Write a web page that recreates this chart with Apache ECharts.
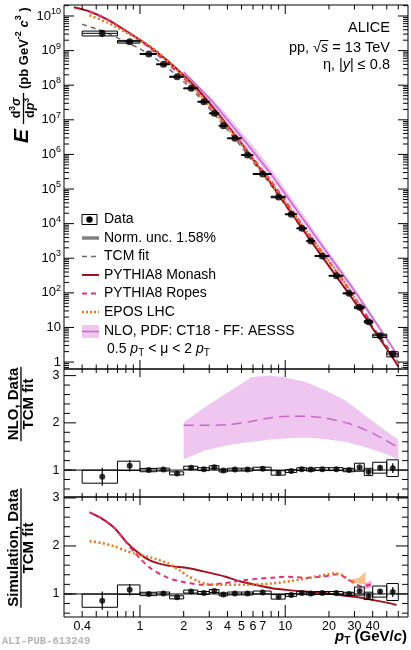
<!DOCTYPE html>
<html lang="en">
<head>
<meta charset="UTF-8">
<title>eta spectrum pp 13 TeV</title>
<script src="https://cdn.jsdelivr.net/npm/echarts@6.0.0/dist/echarts.min.js"></script>
<style>
  html, body { margin: 0; padding: 0; background: #fff; }
  #main { width: 411px; height: 650px; }
</style>
</head>
<body>
<div id="main"></div>
<script>
var binLo = [0.4, 0.7, 1.0, 1.3, 1.6, 2.0, 2.5, 3.0, 3.5, 4.0, 5.0, 6.0, 8.0, 10, 12, 14, 16, 20, 25, 30, 35, 40, 50];
var binHi = [0.7, 1.0, 1.3, 1.6, 2.0, 2.5, 3.0, 3.5, 4.0, 5.0, 6.0, 8.0, 10, 12, 14, 16, 20, 25, 30, 35, 40, 50, 60];
var ptCenter = [0.55, 0.85, 1.15, 1.45, 1.8, 2.25, 2.75, 3.25, 3.75, 4.5, 5.5, 7, 9, 11, 13, 15, 18, 22.5, 27.5, 32.5, 37.5, 45, 55];
var spectrum = [3.16e9, 1.81e9, 7.98e8, 4.02e8, 1.76e8, 8.13e7, 3.33e7, 1.54e7, 6.76e6, 2.92e6, 9.6e5, 2.72e5, 5.88e4, 1.86e4, 7.31e3, 3.14e3, 1.16e3, 312, 96.7, 38.1, 14.6, 5.75, 1.70];
var statRel = [0.22, 0.11, 0.02, 0.02, 0.02, 0.02, 0.02, 0.02, 0.02, 0.02, 0.02, 0.02, 0.02, 0.02, 0.02, 0.02, 0.02, 0.02, 0.03, 0.03, 0.04, 0.05, 0.10];
var sysRel = [0.16, 0.09, 0.035, 0.03, 0.035, 0.03, 0.03, 0.03, 0.03, 0.03, 0.03, 0.03, 0.05, 0.03, 0.03, 0.03, 0.03, 0.03, 0.035, 0.08, 0.08, 0.11, 0.17];
var dataOverFit = [0.86, 1.09, 1.00, 1.01, 0.93, 1.05, 1.02, 1.06, 0.99, 1.01, 1.01, 1.03, 0.94, 0.98, 1.02, 1.01, 1.02, 1.02, 1.00, 1.06, 0.96, 1.05, 1.04];

// ---- curves in the spectrum panel [pT, value] ----
var tcmFit = [[0.4, 5.75e9], [0.5, 4.27e9], [0.6, 3.16e9], [0.7, 2.34e9], [0.85, 1.58e9], [1.0, 1.12e9], [1.2, 7.08e8], [1.5, 3.55e8], [2.0, 1.26e8], [2.5, 5.01e7], [3.0, 2.14e7], [4.0, 5.13e6], [5.0, 1.66e6], [6.0, 6.03e5], [8.0, 1.26e5], [10, 3.39e4], [12, 1.17e4], [15, 3.09e3], [20, 589], [25, 166], [30, 58.9], [40, 10.7], [50, 2.95], [60, 0.977], [65, 0.6]];
var monashSpec = [[0.35, 1.78e10], [0.45, 1.35e10], [0.6, 7.83e9], [0.8, 3.73e9], [1.0, 2.04e9], [1.2, 1.19e9], [1.5, 5.68e8], [2, 1.95e8], [2.5, 7.52e7], [3, 3.08e7], [4, 6.92e6], [5, 2.09e6], [6, 7.23e5], [8, 1.41e5], [10, 3.69e4], [15, 3.21e3], [20, 594], [30, 55.3], [40, 9.42], [50, 2.42], [60, 0.75]];
var ropesSpec = [[0.45, 1.35e10], [0.6, 7.83e9], [0.8, 3.73e9], [1.0, 1.95e9], [1.2, 1.08e9], [1.5, 4.83e8], [2, 1.57e8], [2.5, 6.07e7], [3, 2.55e7], [4, 6.31e6], [5, 2.12e6], [6, 7.89e5], [8, 1.69e5], [10, 4.61e4], [15, 4.17e3], [20, 807], [25, 224], [30, 71.8], [35, 27.4], [40, 12.9]];
var eposSpec = [[0.45, 1.05e10], [0.6, 6.38e9], [0.8, 3.38e9], [1.0, 2.03e9], [1.2, 1.25e9], [1.5, 5.85e8], [2, 1.79e8], [2.5, 6.41e7], [3, 2.56e7], [4, 6.11e6], [5, 1.98e6], [6, 7.23e5], [8, 1.53e5], [10, 4.24e4], [15, 4.14e3], [20, 830], [25, 231], [30, 73.6], [35, 30.7]];
var nloPtSpec = [2, 3, 4, 6, 8, 10, 15, 20, 30, 40, 50, 60];
var nloSpec = [2.45e8, 4.17e7, 1.0e7, 1.23e6, 2.65e5, 7.21e4, 6.58e3, 1.22e3, 115, 19.1, 4.75, 1.45];
var nloSpecHigh = [2.53e8, 5.09e7, 1.36e7, 1.79e6, 3.78e5, 1.0e5, 8.77e3, 1.57e3, 139, 21.9, 5.37, 1.6];
var nloSpecLow = [1.55e8, 3.08e7, 7.85e6, 9.64e5, 2.07e5, 5.66e4, 5.22e3, 977, 91.8, 15.4, 3.93, 1.2];

// ---- NLO / TCM ----
var nloPtRatio = [2, 2.83, 4.09, 5.9, 7.9, 10, 13.7, 18.8, 25.8, 35.3, 48.3, 60];
var nloRatioHigh = [2.01, 2.34, 2.66, 2.97, 3.0, 2.96, 2.87, 2.69, 2.48, 2.16, 1.85, 1.64];
var nloRatioLow = [1.23, 1.42, 1.53, 1.60, 1.65, 1.67, 1.69, 1.66, 1.60, 1.49, 1.35, 1.23];
var nloRatio = [[2, 1.95], [2.83, 1.95], [4, 1.96], [5.6, 2.02], [8, 2.11], [11, 2.14], [14, 2.14], [19.5, 2.09], [27, 1.99], [37, 1.83], [48.5, 1.64], [60, 1.48]];

// ---- simulation / TCM ----
var monashRatio = [[0.45, 2.70], [0.54, 2.58], [0.67, 2.37], [0.82, 2.06], [1.0, 1.83], [1.19, 1.69], [1.55, 1.59], [2.12, 1.54], [2.83, 1.46], [3.88, 1.36], [4.79, 1.27], [6.22, 1.19], [8.1, 1.12], [10.5, 1.08], [13.7, 1.05], [17.8, 1.03], [23.2, 0.98], [30.1, 0.94], [39.2, 0.88], [48.3, 0.83], [58.3, 0.77]];
var ropesRatio = [[0.45, 2.70], [0.54, 2.58], [0.67, 2.37], [0.82, 2.04], [0.92, 1.86], [1.0, 1.74], [1.19, 1.53], [1.55, 1.34], [2.12, 1.23], [2.83, 1.19], [3.88, 1.23], [5.3, 1.29], [8.1, 1.34], [10.5, 1.36], [13.7, 1.34], [17.8, 1.36], [23.2, 1.41], [26.3, 1.33], [30.1, 1.22], [33.2, 1.16], [36, 1.17], [39, 1.2]];
var eposRatio = [[0.45, 2.10], [0.55, 2.06], [0.67, 1.99], [0.8, 1.90], [0.9, 1.85], [1.0, 1.81], [1.19, 1.76], [1.55, 1.64], [1.9, 1.48], [2.12, 1.38], [2.5, 1.27], [2.83, 1.21], [3.88, 1.19], [5.3, 1.19], [8.1, 1.22], [11, 1.27], [15, 1.34], [19.6, 1.41], [21.7, 1.43], [24.6, 1.40], [27.3, 1.29], [30.6, 1.24]];
var eposBandPt = [28.5, 32, 34, 35.7];
var eposBandHigh = [1.30, 1.33, 1.40, 1.47];
var eposBandLow = [1.22, 1.22, 1.20, 1.22];
var ropesBandPt = [35, 37, 39.3];
var ropesBandHigh = [1.22, 1.25, 1.28];
var ropesBandLow = [1.10, 1.12, 1.15];
var normPt = [0.3, 0.34];
var normHigh = [1.0158, 1.0158];
var normLow = [0.9842, 0.9842];
var unityLine = [[0.3, 1], [70, 1]];

// ---- ticks ----
var xTickLabels = ['0.4', '1', '2', '3', '4', '5', '6', '7', '10', '20', '30', '40'];
var xMajorTicks = [1, 10];
var xMinorTicks = [0.4, 0.5, 0.6, 0.7, 0.8, 0.9, 2, 3, 4, 5, 6, 7, 8, 9, 20, 30, 40, 50, 60];
var specTickValues = [1, 10, 1e2, 1e3, 1e4, 1e5, 1e6, 1e7, 1e8, 1e9, 1e10];
var specTickLabels = ['1', '10', '10^2', '10^3', '10^4', '10^5', '10^6', '10^7', '10^8', '10^9', '10^10'];
var ratioTickValues = [1, 2, 3];
var ratioTickLabels = ['1', '2', '3'];
var ratioMinorTicks = [0.6, 0.8, 1.2, 1.4, 1.6, 1.8, 2.2, 2.4, 2.6, 2.8];
var specMinorTicks = [];
for (var e = -1; e <= 10; e++) {
  for (var k = 2; k <= 9; k++) {
    var v = k * Math.pow(10, e);
    if (v > 0.63 && v < 2.08e10) specMinorTicks.push(v);
  }
}

var colMonash = '#a3121c', colRopes = '#e0307e', colEpos = '#e6781c';
var colNloFill = '#efc6ef', colNloLine = '#cc66cc', colTcm = '#6e6e6e';

var FF = '"Liberation Sans", Arial, sans-serif';
function fnt(style, size) { return (style ? style + ' ' : '') + size + 'px ' + FF; }
var ctx2d = document.createElement('canvas').getContext('2d');
function textWidth(t, font) { ctx2d.font = font; return ctx2d.measureText(t).width; }

// lay out a row of text pieces: [text, font, dy, overline]
function runs(segs, x0, y0, align, color) {
  var ws = segs.map(function (s) { return textWidth(s[0], s[1]); });
  var tot = ws.reduce(function (a, b) { return a + b; }, 0);
  var x = align === 'right' ? x0 - tot : (align === 'center' ? x0 - tot / 2 : x0);
  var out = [];
  segs.forEach(function (s, i) {
    out.push({ type: 'text', x: x, y: y0 + (s[2] || 0), silent: true,
      style: { text: s[0], font: s[1], fill: color || '#000', align: 'left', verticalAlign: 'middle' } });
    if (s[3]) {
      out.push({ type: 'line', silent: true, shape: { x1: x - 1, y1: y0 - 7.5, x2: x + ws[i], y2: y0 - 7.5 },
        style: { stroke: color || '#000', lineWidth: 1 } });
    }
    x += ws[i];
  });
  return out;
}

function zip(xs, ys) { return xs.map(function (x, i) { return [x, ys[i]]; }); }

function curve(idx, data, color, width, type, z) {
  return { type: 'line', xAxisIndex: idx, yAxisIndex: idx, data: data, showSymbol: false, symbol: 'none',
    smooth: 0.25, silent: true, z: z || 3, lineStyle: { color: color, width: width, type: type || 'solid', cap: 'butt' } };
}

function band(idx, xs, hi, lo, color, z) {
  return { type: 'custom', xAxisIndex: idx, yAxisIndex: idx, silent: true, z: z || 1, clip: true,
    data: [[xs[0], hi[0]]],
    renderItem: function (params, api) {
      var pts = [];
      for (var i = 0; i < xs.length; i++) pts.push(api.coord([xs[i], hi[i]]));
      for (var j = xs.length - 1; j >= 0; j--) pts.push(api.coord([xs[j], lo[j]]));
      return { type: 'polygon', shape: { points: pts }, style: { fill: color } };
    } };
}

function boxes(idx, vals, withXErr) {
  var rows = ptCenter.map(function (x, i) { return [x, vals[i], binLo[i], binHi[i], statRel[i], sysRel[i]]; });
  return { type: 'custom', xAxisIndex: idx, yAxisIndex: idx, silent: true, z: 6, clip: true, data: rows,
    renderItem: function (params, api) {
      var x = api.value(0), y = api.value(1), lo = api.value(2), hi = api.value(3), st = api.value(4), sy = api.value(5);
      var a = api.coord([lo, y * (1 + sy)]), b = api.coord([hi, y * (1 - sy)]);
      var c = api.coord([x, y]), s1 = api.coord([x, y * (1 + st)]), s2 = api.coord([x, y * (1 - st)]);
      var kids = [
        { type: 'rect', shape: { x: a[0], y: a[1], width: b[0] - a[0], height: b[1] - a[1] }, style: { fill: 'none', stroke: '#000', lineWidth: 1 } },
        { type: 'line', shape: { x1: c[0], y1: s1[1], x2: c[0], y2: s2[1] }, style: { stroke: '#000', lineWidth: 1.2 } }
      ];
      if (withXErr) kids.push({ type: 'line', shape: { x1: a[0], y1: c[1], x2: b[0], y2: c[1] }, style: { stroke: '#000', lineWidth: 1 } });
      return { type: 'group', children: kids };
    } };
}

function points(idx, vals, size) {
  return { type: 'scatter', xAxisIndex: idx, yAxisIndex: idx, data: zip(ptCenter, vals), symbol: 'circle',
    symbolSize: size, itemStyle: { color: '#000' }, silent: true, z: 7 };
}

// ticks and tick labels drawn along the frame of each panel
function frame(idx, o) {
  return { type: 'custom', xAxisIndex: idx, yAxisIndex: idx, silent: true, z: 10, data: [[1, o.yRef]],
    renderItem: function (params, api) {
      var cs = params.coordSys;
      var L = cs.x, R = cs.x + cs.width, T = cs.y, B = cs.y + cs.height;
      var kids = [];
      function seg(x1, y1, x2, y2) { kids.push({ type: 'line', shape: { x1: x1, y1: y1, x2: x2, y2: y2 }, style: { stroke: '#000', lineWidth: 1 } }); }
      function xt(list, lb, lt) {
        list.forEach(function (v) { var px = api.coord([v, o.yRef])[0]; seg(px, B, px, B - lb); seg(px, T, px, T + lt); });
      }
      function yt(list, len) {
        list.forEach(function (v) { var py = api.coord([1, v])[1]; seg(L, py, L + len, py); seg(R, py, R - len, py); });
      }
      xt(xMajorTicks, o.xBot[0], o.xTop[0]);
      xt(xMinorTicks, o.xBot[1], o.xTop[1]);
      yt(o.yMajor, o.yLen[0]);
      yt(o.yMinor, o.yLen[1]);
      if (o.specLabels) {
        specTickValues.forEach(function (v, i) {
          var py = api.coord([1, v])[1];
          var parts = specTickLabels[i].split('^');
          var bf = fnt('', 13), ef = fnt('', 9);
          var ew = parts[1] ? textWidth(parts[1], ef) : 0;
          var xr = L - 3;
          kids.push({ type: 'text', x: xr - ew, y: py, style: { text: parts[0], font: bf, fill: '#000', align: 'right', verticalAlign: 'middle' } });
          if (parts[1]) kids.push({ type: 'text', x: xr - ew, y: py - 4.5, style: { text: parts[1], font: ef, fill: '#000', align: 'left', verticalAlign: 'middle' } });
        });
      }
      if (o.ratioLabels) {
        ratioTickValues.forEach(function (v, i) {
          var py = api.coord([1, v])[1];
          kids.push({ type: 'text', x: L - 4.5, y: py, style: { text: ratioTickLabels[i], font: fnt('', 12.5), fill: '#000', align: 'right', verticalAlign: 'middle' } });
        });
      }
      if (o.xLabels) {
        xTickLabels.forEach(function (t) {
          var px = api.coord([parseFloat(t), o.yRef])[0];
          kids.push({ type: 'text', x: px, y: B + 9.5, style: { text: t, font: fnt('', 12.5), fill: '#000', align: 'center', verticalAlign: 'middle' } });
        });
      }
      return { type: 'group', children: kids };
    } };
}

function xAx(i) {
  return { type: 'log', logBase: 10, gridIndex: i, min: 0.3, max: 70, axisLine: { show: false }, axisTick: { show: false }, axisLabel: { show: false }, splitLine: { show: false } };
}
function yAx(i, type, min, max) {
  return { type: type, gridIndex: i, min: min, max: max, axisLine: { show: false }, axisTick: { show: false }, axisLabel: { show: false }, splitLine: { show: false } };
}

// ---- text decorations ----
var F14 = fnt('', 14);
var graphics = [];

// legend
var lx1 = 82, lx2 = 99, tx = 104;
graphics.push({ type: 'rect', shape: { x: 82, y: 214.5, width: 15, height: 10 }, style: { fill: 'none', stroke: '#000', lineWidth: 1 } });
graphics.push({ type: 'circle', shape: { cx: 89.5, cy: 219.5, r: 3.2 }, style: { fill: '#000' } });
graphics.push({ type: 'line', shape: { x1: lx1, y1: 238, x2: lx2, y2: 238 }, style: { stroke: '#808080', lineWidth: 3.5 } });
graphics.push({ type: 'line', shape: { x1: lx1, y1: 256.5, x2: lx2, y2: 256.5 }, style: { stroke: colTcm, lineWidth: 1.5, lineDash: [5, 4] } });
graphics.push({ type: 'line', shape: { x1: lx1, y1: 275, x2: lx2, y2: 275 }, style: { stroke: colMonash, lineWidth: 2 } });
graphics.push({ type: 'line', shape: { x1: lx1, y1: 293.5, x2: lx2, y2: 293.5 }, style: { stroke: colRopes, lineWidth: 2, lineDash: [5, 4] } });
graphics.push({ type: 'line', shape: { x1: lx1, y1: 312, x2: lx2, y2: 312 }, style: { stroke: colEpos, lineWidth: 2.5, lineDash: [2, 2] } });
graphics.push({ type: 'rect', shape: { x: lx1, y: 325, width: 17, height: 13 }, style: { fill: colNloFill } });
graphics.push({ type: 'line', shape: { x1: lx1, y1: 331.5, x2: lx2, y2: 331.5 }, style: { stroke: colNloLine, lineWidth: 1.5 } });
[['Data', 219.5], ['Norm. unc. 1.58%', 238], ['TCM fit', 256.5], ['PYTHIA8 Monash', 275], ['PYTHIA8 Ropes', 293.5],
 ['EPOS LHC', 312], ['NLO, PDF: CT18 - FF: AESSS', 331.5]].forEach(function (r) {
  graphics.push({ type: 'text', x: tx, y: r[1], style: { text: r[0], font: F14, fill: '#000', align: 'left', verticalAlign: 'middle' } });
});
graphics = graphics.concat(runs([['0.5 ', F14], ['p', fnt('italic', 14)], ['T', fnt('', 10), 4], [' < \u03bc < 2 ', F14], ['p', fnt('italic', 14)], ['T', fnt('', 10), 4]], 107, 349.5, 'left'));

// system label
graphics.push({ type: 'text', x: 390, y: 28, style: { text: 'ALICE', font: fnt('', 14.5), fill: '#000', align: 'right', verticalAlign: 'middle' } });
graphics = graphics.concat(runs([['pp, ', fnt('', 14.5)], ['\u221a', fnt('', 14.5)], ['s', fnt('italic', 14.5), 0, true], [' = 13 TeV', fnt('', 14.5)]], 390, 48, 'right'));
graphics = graphics.concat(runs([['\u03b7, |', fnt('', 14.5)], ['y', fnt('italic', 14.5)], ['| \u2264 0.8', fnt('', 14.5)]], 390, 64.5, 'right'));

// y title of the spectrum panel (rotated)
var yTitle = [{ type: 'text', x: 2, y: -1.5, style: { text: 'E', font: fnt('italic bold', 21), fill: '#000', align: 'left', verticalAlign: 'middle' } },
  { type: 'line', shape: { x1: 21, y1: -0.5, x2: 52, y2: -0.5 }, style: { stroke: '#000', lineWidth: 1.3 } }];
yTitle = yTitle.concat(runs([['d', fnt('bold', 12.5)], ['3', fnt('bold', 8.5), -4], ['\u03c3', fnt('bold italic', 12.5)]], 37, -7.5, 'center'));
yTitle = yTitle.concat(runs([['d', fnt('bold', 12.5)], ['p', fnt('bold italic', 12.5)], ['3', fnt('bold', 8.5), -4]], 37, 7, 'center'));
yTitle = yTitle.concat(runs([['(pb GeV', fnt('bold', 13)], ['-2', fnt('bold', 9), -5], [' ', fnt('bold', 13)], ['c', fnt('bold italic', 13)], ['3', fnt('bold', 9), -5], [' )', fnt('bold', 13)]], 56, 0, 'left'));
graphics.push({ type: 'group', x: 24, y: 145, rotation: Math.PI / 2, children: yTitle });

function ratioTitle(num, size, cx, cy) {
  var w = Math.max(textWidth(num, fnt('bold', size)), textWidth('TCM fit', fnt('bold', size))) + 2;
  return { type: 'group', x: cx, y: cy, rotation: Math.PI / 2, children: [
    { type: 'text', x: 0, y: -7.5, style: { text: num, font: fnt('bold', size), fill: '#000', align: 'center', verticalAlign: 'middle' } },
    { type: 'line', shape: { x1: -w / 2, y1: 0, x2: w / 2, y2: 0 }, style: { stroke: '#000', lineWidth: 1.3 } },
    { type: 'text', x: 0, y: 7.5, style: { text: 'TCM fit', font: fnt('bold', size), fill: '#000', align: 'center', verticalAlign: 'middle' } }
  ] };
}
graphics.push(ratioTitle('NLO, Data', 15, 21, 404));
graphics.push(ratioTitle('Simulation, Data', 15, 21, 548));

// x title
graphics = graphics.concat(runs([['p', fnt('bold italic', 15)], ['T', fnt('bold', 10), 4], [' (GeV/', fnt('bold', 15)], ['c', fnt('bold italic', 15)], [')', fnt('bold', 15)]], 407, 637, 'right'));

graphics.push({ type: 'text', x: 2, y: 641, style: { text: 'ALI-PUB-613249', font: 'bold 10.5px "Liberation Mono", monospace', fill: '#b4b4b4', align: 'left', verticalAlign: 'middle' } });

var chart = echarts.init(document.getElementById('main'));
var option = {
  animation: false,
  backgroundColor: '#fff',
  grid: [
    { left: 64, right: 3, top: 5, height: 364, show: true, borderColor: '#000', borderWidth: 1, backgroundColor: 'transparent' },
    { left: 64, right: 3, top: 369, height: 128, show: true, borderColor: '#000', borderWidth: 1, backgroundColor: 'transparent' },
    { left: 64, right: 3, top: 497, height: 120, show: true, borderColor: '#000', borderWidth: 1, backgroundColor: 'transparent' }
  ],
  xAxis: [xAx(0), xAx(1), xAx(2)],
  yAxis: [yAx(0, 'log', 0.63, 2.08e10), yAx(1, 'value', 0.43, 3.14), yAx(2, 'value', 0.52, 3.02)],
  series: [
    // spectrum panel
    band(0, nloPtSpec, nloSpecHigh, nloSpecLow, colNloFill),
    curve(0, zip(nloPtSpec, nloSpec), colNloLine, 1.5),
    curve(0, tcmFit, colTcm, 1.5, [5, 4]),
    curve(0, monashSpec, colMonash, 2),
    curve(0, ropesSpec, colRopes, 2, [5, 4]),
    curve(0, eposSpec, colEpos, 2.5, [2, 2.5]),
    boxes(0, spectrum, true),
    points(0, spectrum, 7),
    frame(0, { yRef: 1, xBot: [9, 4.5], xTop: [9, 4.5], yLen: [10, 5], yMajor: specTickValues, yMinor: specMinorTicks, specLabels: true }),
    // NLO / TCM
    band(1, nloPtRatio, nloRatioHigh, nloRatioLow, colNloFill),
    curve(1, nloRatio, colNloLine, 1.5, [10, 6]),
    band(1, normPt, normHigh, normLow, '#808080', 4),
    curve(1, unityLine, '#000', 1, 'solid', 5),
    boxes(1, dataOverFit, false),
    points(1, dataOverFit, 6),
    frame(1, { yRef: 1, xBot: [8, 4], xTop: [8, 4], yLen: [12, 6], yMajor: ratioTickValues, yMinor: ratioMinorTicks, ratioLabels: true }),
    // simulation / TCM
    band(2, eposBandPt, eposBandHigh, eposBandLow, '#f5c28e'),
    band(2, ropesBandPt, ropesBandHigh, ropesBandLow, '#f4aacb'),
    curve(2, monashRatio, colMonash, 2),
    curve(2, ropesRatio, colRopes, 2, [5, 4]),
    curve(2, eposRatio, colEpos, 2.5, [2, 2.5]),
    band(2, normPt, normHigh, normLow, '#808080', 4),
    curve(2, unityLine, '#000', 1, 'solid', 5),
    boxes(2, dataOverFit, false),
    points(2, dataOverFit, 6),
    frame(2, { yRef: 1, xBot: [12, 6], xTop: [8, 4], yLen: [12, 6], yMajor: ratioTickValues, yMinor: ratioMinorTicks, ratioLabels: true, xLabels: true })
  ],
  graphic: graphics
};
chart.setOption(option);
</script>
</body>
</html>
